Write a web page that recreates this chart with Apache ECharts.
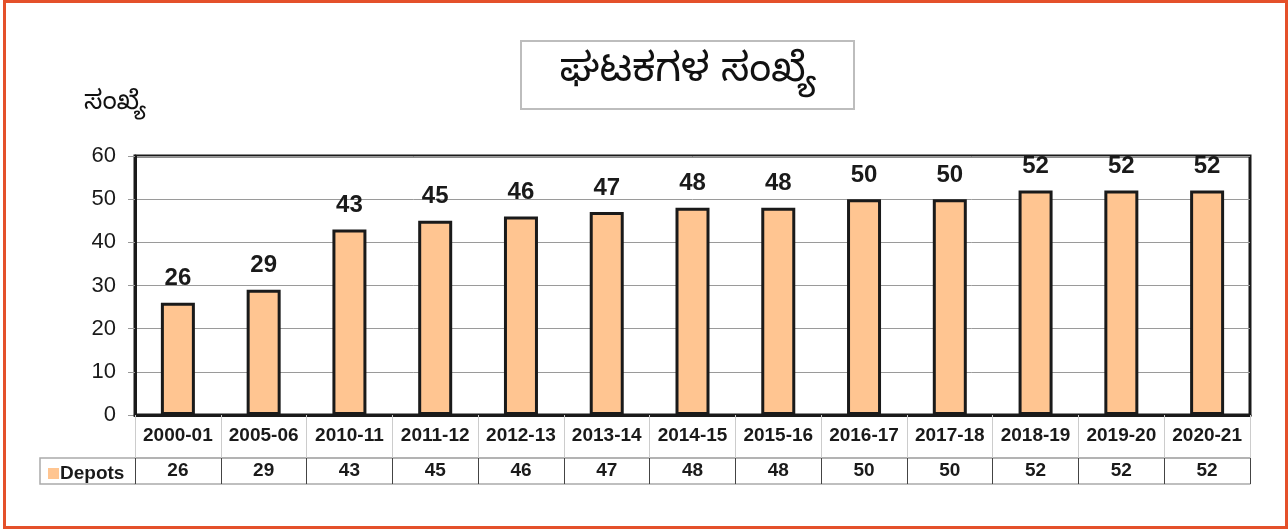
<!DOCTYPE html>
<html>
<head>
<meta charset="utf-8">
<script src="https://cdn.jsdelivr.net/npm/echarts@6/dist/echarts.min.js"></script>
<style>
html,body{margin:0;padding:0;background:#fff;}
#frame{position:absolute;left:3px;top:0;width:1285px;height:529px;box-sizing:border-box;border:3px solid #E4502A;}
#chart{position:absolute;left:0;top:0;width:1288px;height:529px;}
</style>
</head>
<body>
<div id="frame"></div>
<div id="chart"></div>
<script>
const categories = ['2000-01','2005-06','2010-11','2011-12','2012-13','2013-14','2014-15','2015-16','2016-17','2017-18','2018-19','2019-20','2020-21'];
const depots = [26,29,43,45,46,47,48,48,50,50,52,52,52];
const seriesName = 'Depots';
const titleText = 'ಘಟಕಗಳ ಸಂಖ್ಯೆ';
const yAxisName = 'ಸಂಖ್ಯೆ';
const yTicks = {min:0, max:60, interval:10};

const FONT = 'Liberation Sans, Arial, "Noto Sans", sans-serif';
const chart = echarts.init(document.getElementById('chart'), null, {renderer:'canvas'});
const option = {
  animation:false,
  backgroundColor:'transparent',
  textStyle:{fontFamily:FONT},
  grid:{left:135, right:38, top:156, bottom:114, show:true, borderColor:'#1a1a1a', borderWidth:3, containLabel:false},
  legend:{
    data:[seriesName], left:43, top:459, icon:'rect', itemWidth:11, itemHeight:11, itemGap:4,
    textStyle:{fontSize:19, fontWeight:'bold', color:'#1a1a1a', fontFamily:FONT, padding:[0,0,0,-4]},
    itemStyle:{borderWidth:0},
    selectedMode:false
  },
  graphic:[
    {type:'rect', shape:{x:521, y:41, width:333, height:68}, style:{fill:'#fff', stroke:'#bdbdbd', lineWidth:2}, z:10},
    {type:'text', x:688, y:77, style:{text:titleText, fontSize:40, fill:'#111', textAlign:'center', textVerticalAlign:'middle', fontFamily:'"Noto Sans Kannada","Noto Sans", sans-serif'}, z:11},
    {type:'text', x:84, y:106, style:{text:yAxisName, fontSize:26, fill:'#111', textAlign:'left', textVerticalAlign:'middle', fontFamily:'"Noto Sans Kannada","Noto Sans", sans-serif'}, z:11},
    {type:'polyline', shape:{points:[[135,458],[40,458],[40,484],[135,484]]}, style:{stroke:'#aaaaaa', lineWidth:1.5, fill:null}, z:5}
  ],
  xAxis:[
    {type:'category', data:categories, position:'bottom', gridIndex:0,
      axisLine:{show:true, lineStyle:{color:'#1a1a1a', width:3}},
      axisTick:{show:true, length:43, lineStyle:{color:'#cccccc', width:1}},
      axisLabel:{fontSize:19, fontWeight:'bold', color:'#1a1a1a', margin:11, interval:0, fontFamily:FONT},
      z:3
    },
    {type:'category', data:categories, position:'bottom', offset:43, gridIndex:0,
      axisLine:{show:true, lineStyle:{color:'#9a9a9a', width:1.5}},
      axisTick:{show:true, length:26, lineStyle:{color:'#444', width:1}},
      axisLabel:{fontSize:19, fontWeight:'bold', color:'#1a1a1a', margin:3, interval:0, fontFamily:FONT,
        formatter:(v, i) => String(depots[i])}
    },
    {type:'category', data:categories, position:'bottom', offset:69, gridIndex:0,
      axisLine:{show:true, lineStyle:{color:'#aaaaaa', width:1.5}},
      axisTick:{show:false}, axisLabel:{show:false}
    }
  ],
  yAxis:{
    type:'value', min:yTicks.min, max:yTicks.max, interval:yTicks.interval,
    axisLine:{show:true, lineStyle:{color:'#1a1a1a', width:3}},
    axisTick:{show:true, length:7, lineStyle:{color:'#999'}},
    axisLabel:{fontSize:22, color:'#1a1a1a', margin:19, fontFamily:FONT},
    splitLine:{show:true, lineStyle:{color:'#9a9a9a', width:1}}
  },
  series:[{
    name:seriesName, type:'bar', data:depots, barWidth:34, xAxisIndex:0,
    itemStyle:{color:'#FFC591', borderColor:'#1a1a1a', borderWidth:3},
    label:{show:true, position:'top', distance:12, fontSize:24, fontWeight:'bold', color:'#1a1a1a', fontFamily:FONT}
  }]
};
chart.setOption(option);
</script>
</body>
</html>
